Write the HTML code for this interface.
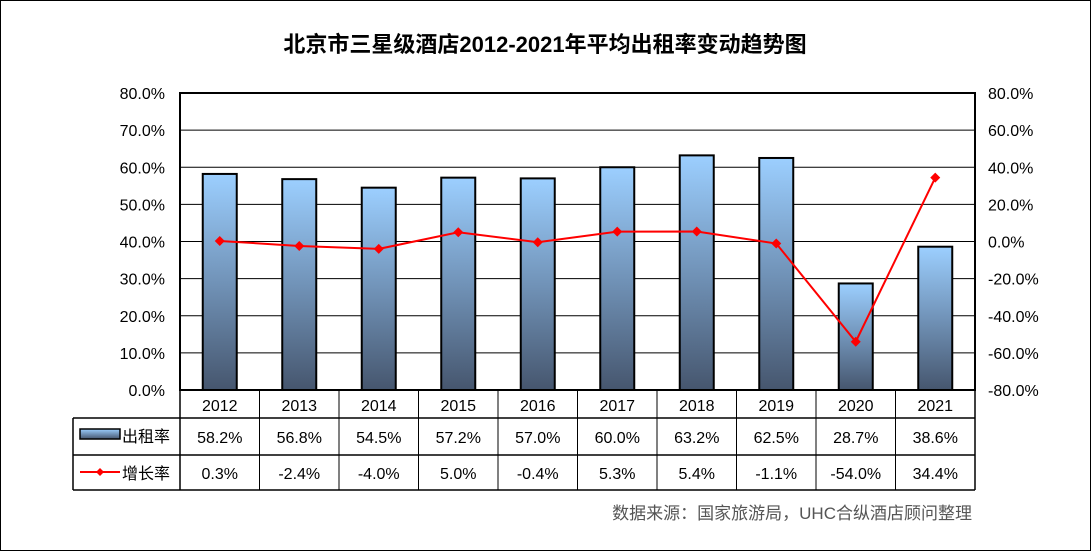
<!DOCTYPE html>
<html><head><meta charset="utf-8"><style>
body{margin:0;background:#fff}
svg{display:block;font-family:"Liberation Sans","Noto Sans CJK SC",sans-serif}
</style></head><body>
<svg id="c" width="1091" height="551" viewBox="0 0 1091 551">
<defs><linearGradient id="g" x1="0" y1="0" x2="0" y2="1"><stop offset="0" stop-color="#9ccfff"/><stop offset="0.5" stop-color="#7193b8"/><stop offset="1" stop-color="#46566e"/></linearGradient>
<linearGradient id="lg" x1="0" y1="0" x2="0" y2="1"><stop offset="0" stop-color="#9ccfff"/><stop offset="1" stop-color="#46566e"/></linearGradient></defs>
<rect x="0.5" y="0.5" width="1090" height="550" fill="#fff" stroke="#000"/>
<text x="545" y="52" text-anchor="middle" font-size="22" font-weight="bold">北京市三星级酒店2012-2021年平均出租率变动趋势图</text>
<g id="grid"></g><g id="bars"></g><g id="line"></g><g id="table"></g>
<text x="972" y="519" text-anchor="end" font-size="17" fill="#555">数据来源：国家旅游局，UHC合纵酒店顾问整理</text>
</svg>
<script>
const years=["2012","2013","2014","2015","2016","2017","2018","2019","2020","2021"];
const occupancy=[58.2,56.8,54.5,57.2,57.0,60.0,63.2,62.5,28.7,38.6];
const growth=[0.3,-2.4,-4.0,5.0,-0.4,5.3,5.4,-1.1,-54.0,34.4];
const leftTicks=[0,10,20,30,40,50,60,70,80];
const rightTicks=[-80,-60,-40,-20,0,20,40,60,80];
const NS="http://www.w3.org/2000/svg";
const X0=180,X1=975,Y0=390,Y1=93,cw=(X1-X0)/years.length;
const yL=v=>Y0-(v/80)*(Y0-Y1);
const yR=v=>Y0-((v+80)/160)*(Y0-Y1);
const xC=i=>X0+cw*(i+0.5);
function mk(tag,attrs,parent,text){const e=document.createElementNS(NS,tag);for(const k in attrs)e.setAttribute(k,attrs[k]);if(text!==undefined)e.textContent=text;document.getElementById(parent).appendChild(e);return e;}
leftTicks.forEach(v=>{
 if(v>0){const l=mk('line',{x1:X0,x2:X1,y1:yL(v),y2:yL(v),stroke:'#000','stroke-width':1},'grid');
 
 }
 const t=mk('text',{x:165,y:yL(v)+6,'text-anchor':'end','font-size':16},'grid',v.toFixed(1)+'%');
 
 
});
rightTicks.forEach(v=>{
 const t=mk('text',{x:988,y:yR(v)+6,'font-size':16},'grid',v.toFixed(1)+'%');
 
 
});
const pa=mk('rect',{x:X0,y:Y1,width:X1-X0,height:Y0-Y1,fill:'none',stroke:'#000','stroke-width':2},'grid');


occupancy.forEach((v,i)=>{
 const b=mk('rect',{x:xC(i)-17,y:yL(v),width:34,height:Y0-yL(v),fill:'url(#g)',stroke:'#000','stroke-width':2},'bars');
 
 
});
const pl=mk('polyline',{points:growth.map((v,i)=>xC(i)+','+yR(v)).join(' '),fill:'none',stroke:'#f00','stroke-width':2},'line');


growth.forEach((v,i)=>{
 const x=xC(i),y=yR(v);
 const p=mk('polygon',{points:`${x},${y-5} ${x+5},${y} ${x},${y+5} ${x-5},${y}`,fill:'#f00'},'line');
 
 
});
// table
const rows=[390,418,455,490],TL=73;
[[X0,rows[0],X1,rows[0]],[X0,rows[0],X0,rows[3]],[X1,rows[0],X1,rows[3]],[TL,rows[1],X1,rows[1]],[TL,rows[2],X1,rows[2]],[TL,rows[3],X1,rows[3]],[TL,rows[1],TL,rows[3]]].forEach(a=>{
 const l=mk('line',{x1:a[0],y1:a[1],x2:a[2],y2:a[3],stroke:'#000','stroke-width':1.5},'table');
 
 
});
years.forEach((y,i)=>{
 if(i>0){const l=mk('line',{x1:X0+cw*i,x2:X0+cw*i,y1:rows[0],y2:rows[3],stroke:'#000','stroke-width':1},'table');
 
 }
 const t1=mk('text',{x:xC(i),y:411,'text-anchor':'middle','font-size':16},'table',y);
 
 
 const t2=mk('text',{x:xC(i),y:443,'text-anchor':'middle','font-size':16},'table',occupancy[i].toFixed(1)+'%');
 
 
 const t3=mk('text',{x:xC(i),y:479,'text-anchor':'middle','font-size':16},'table',growth[i].toFixed(1)+'%');
 
 
});
const lk=mk('rect',{x:80,y:429,width:40,height:10,fill:'url(#lg)',stroke:'#000','stroke-width':1.5},'table');


const lt=mk('text',{x:122,y:442,'font-size':16},'table','出租率');


const ll=mk('line',{x1:80,x2:120,y1:472,y2:472,stroke:'#f00','stroke-width':2},'table');


const ld=mk('polygon',{points:'100,468 104,472 100,476 96,472',fill:'#f00'},'table');


const lt2=mk('text',{x:122,y:479,'font-size':16},'table','增长率');


</script>
</body></html>
